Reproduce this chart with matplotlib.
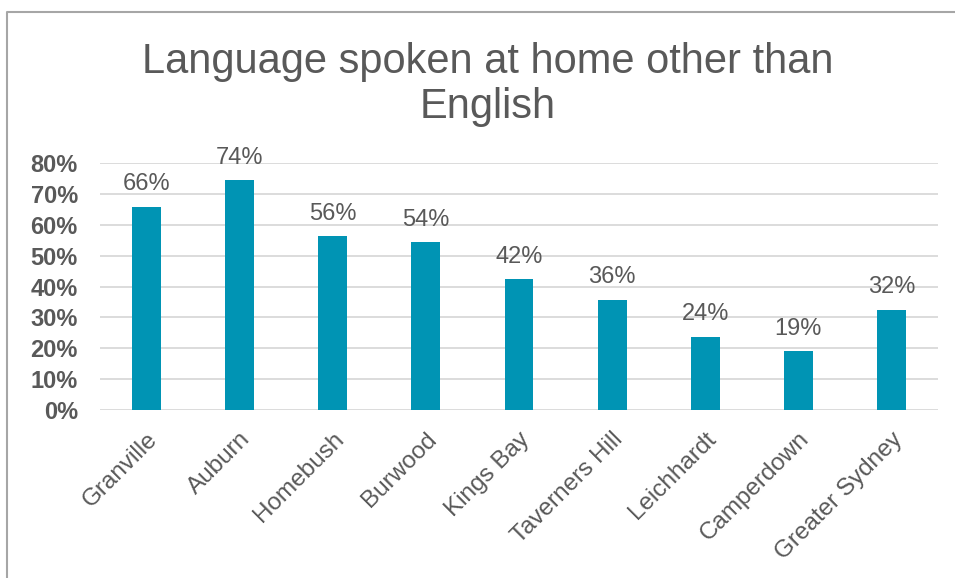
import matplotlib
matplotlib.use('Agg')
import matplotlib.pyplot as plt
from matplotlib.lines import Line2D
from matplotlib.ticker import FuncFormatter

# data
suburbs = ['Granville', 'Auburn', 'Homebush', 'Burwood', 'Kings Bay',
           'Taverners Hill', 'Leichhardt', 'Camperdown', 'Greater Sydney']
share = [0.657, 0.744, 0.563, 0.543, 0.423, 0.357, 0.238, 0.190, 0.324]
y_ticks = [0.0, 0.1, 0.2, 0.3, 0.4, 0.5, 0.6, 0.7, 0.8]
title_lines = ['Language spoken at home other than', 'English']

TEXT = '#595959'
BAR = '#0094B4'
GRID = '#D9D9D9'
W, H = 955, 578

plt.rcParams['font.family'] = ['Liberation Sans', 'DejaVu Sans']

fig = plt.figure(figsize=(W / 100, H / 100), dpi=100)
ax = fig.add_axes([100 / W, 1 - 410 / H, 838 / W, 247 / H])

x = range(len(suburbs))
bars = ax.bar(x, share, width=0.31, color=BAR, zorder=3)
for b, v in zip(bars, share):
    # label baseline sits ~17 px above the bar top
    ax.annotate(f'{v:.0%}', (b.get_x() + b.get_width() / 2, v),
                xytext=(0, 12), textcoords='offset points',
                ha='center', va='baseline', fontsize=17, color=TEXT)

ax.set_xlim(-0.5, len(suburbs) - 0.5)
ax.set_ylim(0, 0.8)
ax.set_yticks(y_ticks)
ax.yaxis.set_major_formatter(FuncFormatter(lambda v, _: f'{v:.0%}'))
ax.grid(True, axis='y', color=GRID, lw=1.3, zorder=0)
for s in ax.spines.values():
    s.set_visible(False)
ax.tick_params(axis='both', length=0, colors=TEXT)
ax.tick_params(axis='y', labelsize=17, pad=16)
for lbl in ax.get_yticklabels():
    lbl.set_fontweight('bold')

ax.set_xticks(list(x))
ax.set_xticklabels(suburbs, rotation=45, ha='right', va='top',
                   rotation_mode='anchor', fontsize=17.5, color=TEXT)
ax.tick_params(axis='x', pad=13)

# two-line title, baselines placed as in the reference
for line, base_px in zip(title_lines, [73, 118]):
    fig.text(0.511, 1 - base_px / H, line, ha='center', va='baseline',
             fontsize=30, color=TEXT)

# chart frame (left and top edges only, as in the reference)
fx = 7 / W
fy = 1 - 12 / H
fig.add_artist(Line2D([fx, fx, 1], [0, fy, fy], transform=fig.transFigure,
                      color='#A6A6A6', lw=1.5))

fig.savefig('out.png', dpi=100)
